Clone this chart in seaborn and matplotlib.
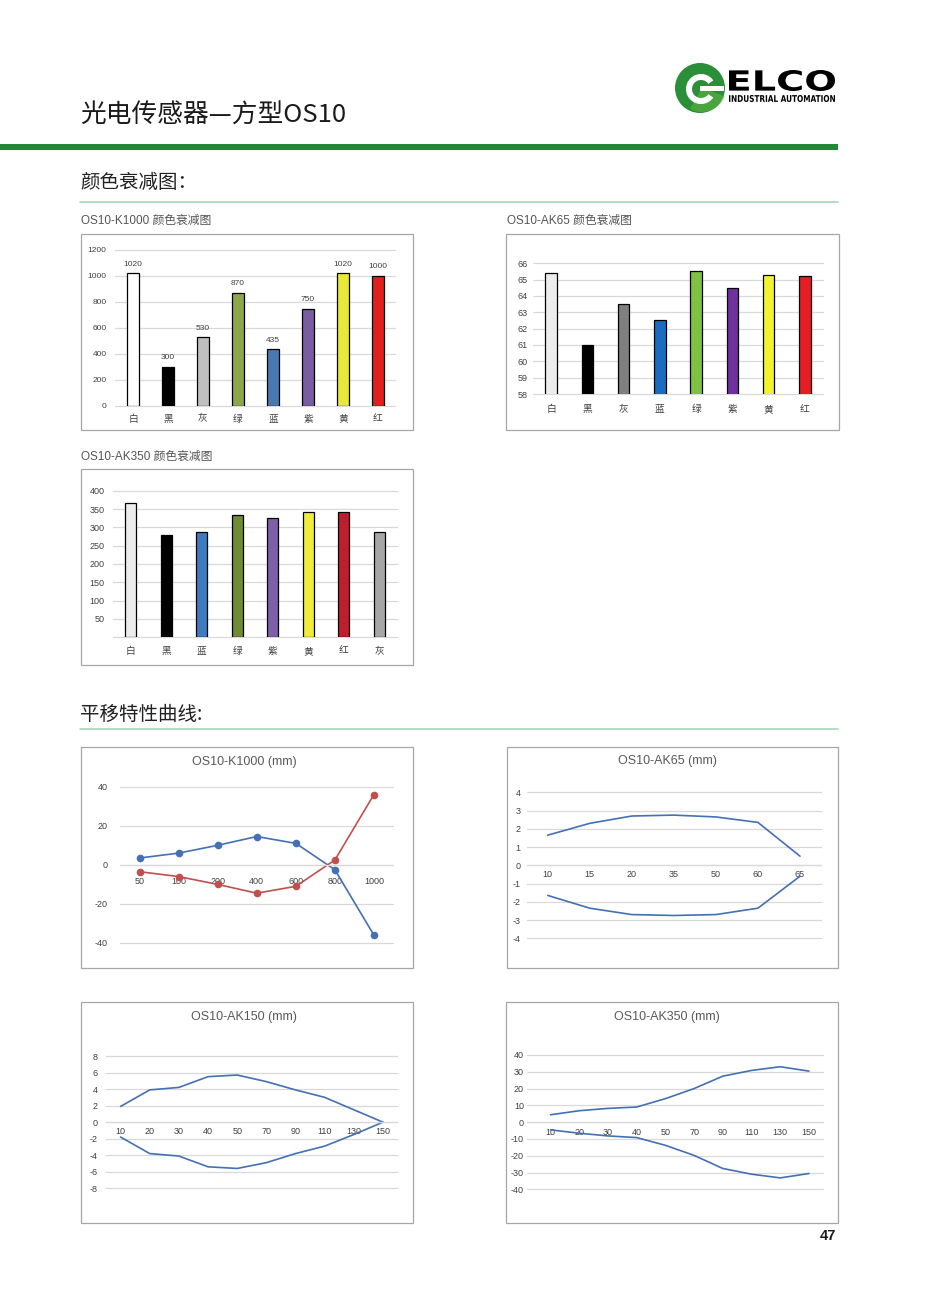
"""
OS10 photoelectric sensor datasheet page: colour attenuation bars + offset curves.
Output: out.png (945 x 1290 px)
"""

import matplotlib
matplotlib.use("Agg")
import pandas as pd
import matplotlib.pyplot as plt
import seaborn as sns
from matplotlib.patches import Rectangle, Circle, Wedge, PathPatch
from matplotlib.textpath import TextPath
from matplotlib.font_manager import FontProperties
from matplotlib.transforms import Affine2D

# ── Colour attenuation data ────────────────────────────────────────────────────
k1000_cats   = ["白", "黑", "灰", "绿", "蓝", "紫", "黄", "红"]
k1000_values = [1020, 300, 530, 870, 435, 750, 1020, 1000]
k1000_fill   = ["#ffffff", "#000000", "#bfbfbf", "#8aa84a", "#4a78b0", "#7a5ca0", "#e8e83a", "#e0201c"]

ak65_cats   = ["白", "黑", "灰", "蓝", "绿", "紫", "黄", "红"]
ak65_values = [65.4, 61.0, 63.5, 62.5, 65.5, 64.5, 65.3, 65.2]
ak65_fill   = ["#ececec", "#000000", "#7f7f7f", "#1a6cc0", "#7fc241", "#7030a0", "#f2f230", "#e81c24"]

ak350_cats   = ["白", "黑", "蓝", "绿", "紫", "黄", "红", "灰"]
ak350_values = [366, 278, 288, 334, 326, 343, 343, 288]
ak350_fill   = ["#ececec", "#000000", "#3e7cc0", "#6e8c34", "#7e60a8", "#f0ec3c", "#be1e2d", "#a6a6a6"]

# ── Offset curve data (mm) ─────────────────────────────────────────────────────
k1000_dist  = ["50", "100", "200", "400", "600", "800", "1000"]
k1000_upper = [3.5, 6, 10, 14.5, 11, -2.5, -36]
k1000_lower = [-3.5, -6, -10, -14.5, -11, 2.5, 36]

ak65_dist  = ["10", "15", "20", "35", "50", "60", "65"]
ak65_upper = [1.65, 2.3, 2.7, 2.75, 2.65, 2.35, 0.5]
ak65_lower = [-1.65, -2.35, -2.7, -2.75, -2.7, -2.35, -0.6]

ak150_dist  = ["10", "20", "30", "40", "50", "70", "90", "110", "130", "150"]
ak150_upper = [1.9, 3.9, 4.2, 5.5, 5.7, 4.9, 3.9, 3.0, 1.5, 0]
ak150_lower = [-1.8, -3.8, -4.1, -5.4, -5.6, -4.9, -3.8, -2.9, -1.5, 0]

ak350_dist  = ["10", "20", "30", "40", "50", "70", "90", "110", "130", "150"]
ak350_upper = [4.4, 6.8, 8.2, 9.0, 14, 20, 27.4, 30.8, 33, 30.4]
ak350_lower = [-4.6, -6.6, -8.2, -9.2, -13.8, -19.8, -27.6, -31, -33.2, -30.6]

# ── Style ──────────────────────────────────────────────────────────────────────
W, H   = 945, 1290
GRID   = "#d9d9d9"
TXT    = "#404040"
BOX    = "#a6a6a6"
BLUE   = "#4470b4"
RED    = "#c0504d"
CJK    = ["Noto Sans CJK SC", "DejaVu Sans"]

sns.set_theme(style="white")
plt.rcParams["font.family"] = ["Liberation Sans", "Noto Sans CJK SC", "DejaVu Sans"]
plt.rcParams["axes.unicode_minus"] = False

fig  = plt.figure(figsize=(W / 100, H / 100), dpi=100)
page = fig.add_axes([0, 0, 1, 1])
page.set_xlim(0, W)
page.set_ylim(H, 0)
page.axis("off")


def px_axes(left, top, right, bottom):
    ax = fig.add_axes([left / W, 1 - bottom / H, (right - left) / W, (bottom - top) / H])
    ax.set_facecolor("none")
    return ax


def box(left, top, right, bottom):
    page.add_patch(Rectangle((left, top), right - left, bottom - top,
                             fill=False, edgecolor=BOX, lw=0.9))


def fit_text(s, x0, y0, x1, y1, color="black"):
    tp = TextPath((0, 0), s, size=10, prop=FontProperties(family="DejaVu Sans", weight="bold"))
    bb = tp.get_extents()
    tr = (Affine2D().translate(-bb.x0, -bb.y0)
          .scale((x1 - x0) / bb.width, -(y1 - y0) / bb.height)
          .translate(x0, y1))
    page.add_patch(PathPatch(tr.transform_path(tp), color=color, lw=0))


def unclip_grid(ax):
    # keep the outermost gridlines fully visible at the axes edge
    for gl in ax.get_ygridlines():
        gl.set_clip_on(False)


# ── Bar chart ──────────────────────────────────────────────────────────────────
def bar_chart(ax, cats, values, fill, ylim, yticks, ylabels, xpad, ypad, ysize, labels=False):
    df = pd.DataFrame({"colour": cats, "value": values})
    sns.barplot(data=df, x="colour", y="value", hue="colour", palette=fill, legend=False,
                width=0.32, saturation=1, edgecolor="black", linewidth=0.9,
                errorbar=None, ax=ax)
    if labels:
        for c in ax.containers:
            ax.bar_label(c, fmt="%d", padding=4, fontsize=6, color=TXT)
    ax.set_ylim(*ylim)
    ax.set_xlim(-0.5, len(cats) - 0.5)
    ax.set_yticks(yticks)
    ax.set_yticklabels(ylabels)
    ax.set_xlabel("")
    ax.set_ylabel("")
    sns.despine(ax=ax, left=True, bottom=True)
    ax.yaxis.grid(True, color=GRID, lw=0.9)
    ax.xaxis.grid(False)
    ax.set_axisbelow(True)
    ax.tick_params(axis="x", length=0, pad=xpad, labelsize=7, colors=TXT)
    ax.tick_params(axis="y", length=0, pad=ypad, labelsize=ysize, colors=TXT)
    unclip_grid(ax)


# ── Offset line chart ──────────────────────────────────────────────────────────
def line_chart(ax, dist, upper, lower, palette, ylim, yticks, xlim, xpad, ypad, marker=None):
    n  = len(dist)
    df = pd.DataFrame({"dist": dist + dist,
                       "offset": upper + lower,
                       "side": ["upper"] * n + ["lower"] * n})
    sns.lineplot(data=df, x="dist", y="offset", hue="side", palette=palette, sort=False,
                 marker=marker, markersize=5.5, markeredgewidth=0, lw=1.2,
                 legend=False, ax=ax)
    ax.set_xlim(*xlim)
    ax.set_ylim(*ylim)
    ax.set_yticks(yticks)
    ax.set_xlabel("")
    ax.set_ylabel("")
    for s in ["top", "right", "left"]:
        ax.spines[s].set_visible(False)
    ax.spines["bottom"].set_position(("data", 0))
    ax.spines["bottom"].set_color(GRID)
    ax.spines["bottom"].set_linewidth(0.9)
    ax.yaxis.grid(True, color=GRID, lw=0.9)
    ax.xaxis.grid(False)
    ax.set_axisbelow(True)
    ax.tick_params(axis="x", length=0, pad=xpad, labelsize=6.5, colors=TXT)
    ax.tick_params(axis="y", length=0, pad=ypad, labelsize=6.5, colors=TXT)
    unclip_grid(ax)


# ── Page header ────────────────────────────────────────────────────────────────
page.text(80, 116, "光电传感器—方型OS10", fontsize=18.5, va="center", family=CJK, color="#1a1a1a")
page.add_patch(Rectangle((0, 144), 838, 6, color="#23893a", lw=0))

page.add_patch(Circle((700, 88), 25, color="#2b8f3a", lw=0))
page.add_patch(Wedge((702, 88), 24, 20, 120, color="#5fb443", lw=0, alpha=0.6))
page.add_patch(Wedge((701, 89), 15, 35, 325, width=6, color="white", lw=0))
page.add_patch(Rectangle((700, 86), 24, 5, color="white", lw=0))
fit_text("ELCO", 729, 70, 835, 91)
fit_text("INDUSTRIAL AUTOMATION", 729, 95, 835, 102)

# ── Section 1: colour attenuation ──────────────────────────────────────────────
page.text(80, 182, "颜色衰减图：", fontsize=14, va="center", family=CJK, color="#222222")
page.plot([80, 838], [201.5, 201.5], color="#9fd3ae", lw=1.1)

page.text(81, 221, "OS10-K1000 颜色衰减图", fontsize=8.5, va="center", color="#555555")
page.text(507, 221, "OS10-AK65 颜色衰减图", fontsize=8.5, va="center", color="#555555")
page.text(81, 457, "OS10-AK350 颜色衰减图", fontsize=8.5, va="center", color="#555555")

box(81, 234, 413, 430)
box(506, 234, 839, 430)
box(81, 469, 413, 665)

ax = px_axes(115.5, 250, 395.5, 406)
bar_chart(ax, k1000_cats, k1000_values, k1000_fill, (0, 1200),
          range(0, 1201, 200), [str(v) for v in range(0, 1201, 200)],
          xpad=5.5, ypad=6.5, ysize=6, labels=True)

ax = px_axes(533, 263.3, 823, 394)
bar_chart(ax, ak65_cats, ak65_values, ak65_fill, (58, 66),
          range(58, 67), [str(v) for v in range(58, 67)],
          xpad=7.5, ypad=3.6, ysize=6.5)

ax = px_axes(113, 490.7, 397, 637.3)
bar_chart(ax, ak350_cats, ak350_values, ak350_fill, (0, 400),
          range(0, 401, 50), [""] + [str(v) for v in range(50, 401, 50)],
          xpad=6.5, ypad=6, ysize=6.5)

# ── Section 2: offset curves ───────────────────────────────────────────────────
page.text(80, 714, "平移特性曲线:", fontsize=14, va="center", family=CJK, color="#222222")
page.plot([80, 838], [729, 729], color="#9fd3ae", lw=1.1)

box(81, 747, 413, 968)
box(507, 747, 838, 968)
box(81, 1002, 413, 1223)
box(506, 1002, 838, 1223)

page.text(244, 762, "OS10-K1000 (mm)", fontsize=9, ha="center", va="center", color="#595959")
page.text(667, 761, "OS10-AK65 (mm)", fontsize=9, ha="center", va="center", color="#595959")
page.text(244, 1017, "OS10-AK150 (mm)", fontsize=9, ha="center", va="center", color="#595959")
page.text(667, 1017, "OS10-AK350 (mm)", fontsize=9, ha="center", va="center", color="#595959")

ax = px_axes(120, 786.7, 393.5, 943)
line_chart(ax, k1000_dist, k1000_upper, k1000_lower, {"upper": BLUE, "lower": RED},
           (-40, 40), range(-40, 41, 20), (-0.5, 6.5), xpad=8.5, ypad=9, marker="o")

ax = px_axes(526.7, 792.3, 821, 938.3)
line_chart(ax, ak65_dist, ak65_upper, ak65_lower, {"upper": BLUE, "lower": BLUE},
           (-4, 4), range(-4, 5), (-0.5, 6.5), xpad=3.2, ypad=4.5)

ax = px_axes(106, 1056, 397.5, 1188.3)
line_chart(ax, ak150_dist, ak150_upper, ak150_lower, {"upper": BLUE, "lower": BLUE},
           (-8, 8), range(-8, 9, 2), (-0.5, 9.5), xpad=3.2, ypad=6)

ax = px_axes(526.7, 1055, 823.3, 1189.3)
line_chart(ax, ak350_dist, ak350_upper, ak350_lower, {"upper": BLUE, "lower": BLUE},
           (-40, 40), range(-40, 41, 10), (-0.83, 9.5), xpad=4, ypad=2)

page.text(828, 1236, "47", fontsize=10.5, weight="bold", ha="center", va="center", color="#1a1a1a")

fig.savefig("out.png", dpi=100)
